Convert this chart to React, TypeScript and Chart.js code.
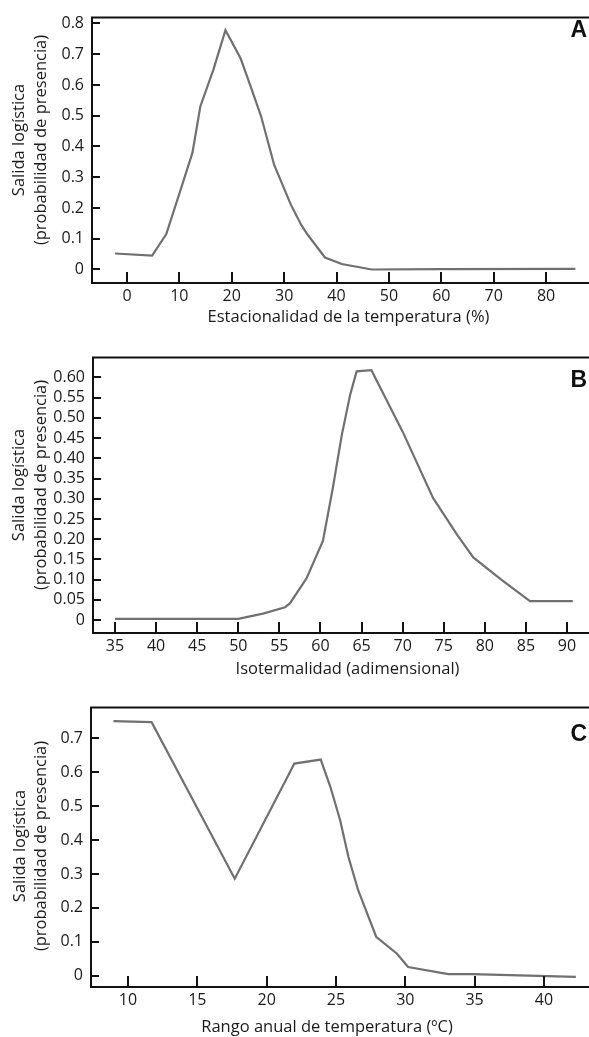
import React, { useEffect, useRef } from "react";
import { Chart, registerables } from "chart.js";

Chart.register(...registerables);

// ---- Data ----
const xA = [-2.3, 4.8, 7.5, 10.2, 12.5, 14, 16.5, 18.8, 21.7, 23.5, 25.6, 28.1, 31.3, 33.3, 34.5, 37.8, 41, 46.7, 60, 85.6];
const yA = [0.052, 0.045, 0.115, 0.257, 0.38, 0.53, 0.65, 0.778, 0.686, 0.6, 0.498, 0.34, 0.21, 0.144, 0.113, 0.039, 0.018, 0.0, 0.001, 0.002];
const xTicksA = [0, 10, 20, 30, 40, 50, 60, 70, 80];
const yTicksA = [0, 0.1, 0.2, 0.3, 0.4, 0.5, 0.6, 0.7, 0.8];
const yLabelsA = ["0", "0.1", "0.2", "0.3", "0.4", "0.5", "0.6", "0.7", "0.8"];

const xB = [35, 50, 53, 55.7, 56.3, 58.3, 60.3, 61.5, 62.6, 63.6, 64.4, 66.2, 70, 73.7, 76.6, 78.6, 82, 85.5, 90.7];
const yB = [0.003, 0.003, 0.016, 0.032, 0.042, 0.103, 0.196, 0.326, 0.458, 0.556, 0.615, 0.618, 0.466, 0.302, 0.212, 0.155, 0.1, 0.047, 0.047];
const xTicksB = [35, 40, 45, 50, 55, 60, 65, 70, 75, 80, 85, 90];
const yTicksB = [0, 0.05, 0.1, 0.15, 0.2, 0.25, 0.3, 0.35, 0.4, 0.45, 0.5, 0.55, 0.6];
const yLabelsB = ["0", "0.05", "0.10", "0.15", "0.20", "0.25", "0.30", "0.35", "0.40", "0.45", "0.50", "0.55", "0.60"];

const xC = [8.95, 11.7, 17.7, 22.0, 23.9, 24.6, 25.3, 25.9, 26.6, 27.9, 29.4, 30.2, 33.1, 34.8, 42.3];
const yC = [0.75, 0.747, 0.286, 0.625, 0.637, 0.556, 0.458, 0.35, 0.252, 0.115, 0.065, 0.026, 0.005, 0.005, -0.003];
const xTicksC = [10, 15, 20, 25, 30, 35, 40];
const yTicksC = [0, 0.1, 0.2, 0.3, 0.4, 0.5, 0.6, 0.7];
const yLabelsC = ["0", "0.1", "0.2", "0.3", "0.4", "0.5", "0.6", "0.7"];

const yTitle = ["Salida logística", "(probabilidad de presencia)"];

const FONT = "'Open Sans', 'Noto Sans', sans-serif";
const LINE = "#707070";
const INK = "#111111";
const TEXT = "#1a1a1a";

type Panel = {
  letter: string;
  xs: number[];
  ys: number[];
  xTicks: number[];
  yTicks: number[];
  yLabels: string[];
  xTitle: string;
  xMin: number;
  xMax: number;
  yMin: number;
  yMax: number;
  height: number;
  padTop: number;
  xAxisH: number;
  yAxisW: number;
  xTitleX: number;
  xTitleY: number;
  yTitleY: number;
  yTitleX: number;
  letterY: number;
};

const panels: Panel[] = [
  {
    letter: "A", xs: xA, ys: yA, xTicks: xTicksA, yTicks: yTicksA, yLabels: yLabelsA,
    xTitle: "Estacionalidad de la temperatura (%)",
    xMin: -6.68, xMax: 88.2, yMin: -0.0439, yMax: 0.819,
    height: 340, padTop: 8, xAxisH: 57, yAxisW: 92,
    xTitleX: 348.5, xTitleY: 317, yTitleY: 140, yTitleX: 19.5, letterY: 37,
  },
  {
    letter: "B", xs: xB, ys: yB, xTicks: xTicksB, yTicks: yTicksB, yLabels: yLabelsB,
    xTitle: "Isotermalidad (adimensional)",
    xMin: 32.32, xMax: 92.68, yMin: -0.0318, yMax: 0.649,
    height: 350, padTop: 15, xAxisH: 57, yAxisW: 93,
    xTitleX: 347.5, xTitleY: 329, yTitleY: 145, yTitleX: 19.5, letterY: 47,
  },
  {
    letter: "C", xs: xC, ys: yC, xTicks: xTicksC, yTicks: yTicksC, yLabels: yLabelsC,
    xTitle: "Rango anual de temperatura (ºC)",
    xMin: 7.33, xMax: 43.25, yMin: -0.033, yMax: 0.79,
    height: 347, padTop: 17, xAxisH: 50, yAxisW: 91,
    xTitleX: 327, xTitleY: 337, yTitleY: 156, yTitleX: 20, letterY: 51,
  },
];

function PanelChart({ p }: { p: Panel }) {
  const ref = useRef<HTMLCanvasElement | null>(null);
  useEffect(() => {
    if (!ref.current) return;
    const framePlugin = {
      id: "frame",
      afterDraw(chart: any) {
        const ctx = chart.ctx;
        const a = chart.chartArea;
        const xs = chart.scales.x;
        const ys = chart.scales.y;
        ctx.save();
        ctx.strokeStyle = INK;
        ctx.lineWidth = 2;
        ctx.beginPath();
        ctx.moveTo(chart.width, a.top);
        ctx.lineTo(a.left, a.top);
        ctx.lineTo(a.left, a.bottom);
        ctx.lineTo(chart.width, a.bottom);
        ctx.stroke();
        ctx.beginPath();
        for (const t of xs.ticks) {
          const px = Math.round(xs.getPixelForValue(t.value));
          ctx.moveTo(px, a.bottom);
          ctx.lineTo(px, a.bottom - 11);
        }
        for (const t of ys.ticks) {
          const py = Math.round(ys.getPixelForValue(t.value));
          ctx.moveTo(a.left, py);
          ctx.lineTo(a.left + 8, py);
        }
        ctx.stroke();

        // axis titles
        ctx.fillStyle = TEXT;
        ctx.font = `16.5px ${FONT}`;
        ctx.textAlign = "center";
        ctx.textBaseline = "middle";
        ctx.fillText(p.xTitle, p.xTitleX, p.xTitleY);
        ctx.save();
        ctx.translate(p.yTitleX, p.yTitleY);
        ctx.rotate(-Math.PI / 2);
        ctx.fillText(yTitle[0], 0, 0);
        ctx.fillText(yTitle[1], 0, 21.5);
        ctx.restore();

        // panel letter
        ctx.fillStyle = INK;
        ctx.font = "bold 23px 'Liberation Sans Narrow', 'Liberation Sans', sans-serif";
        ctx.textAlign = "right";
        ctx.textBaseline = "alphabetic";
        ctx.fillText(p.letter, chart.width - 2, p.letterY);
        ctx.restore();
      },
    };

    const chart = new Chart(ref.current, {
      type: "line",
      data: {
        datasets: [
          {
            data: p.xs.map((x, i) => ({ x, y: p.ys[i] })),
            borderColor: LINE,
            borderWidth: 2.2,
            pointRadius: 0,
            tension: 0,
            fill: false,
          },
        ],
      },
      options: {
        animation: false,
        responsive: false,
        devicePixelRatio: 1,
        layout: { padding: { top: p.padTop, left: 0, right: 0, bottom: 0 } },
        plugins: { legend: { display: false }, tooltip: { enabled: false } },
        scales: {
          x: {
            type: "linear",
            min: p.xMin,
            max: p.xMax,
            afterBuildTicks: (s: any) => {
              s.ticks = p.xTicks.map((v) => ({ value: v }));
            },
            afterFit: (s: any) => {
              s.height = p.xAxisH;
            },
            grid: { display: false, drawTicks: false },
            border: { display: false },
            ticks: {
              padding: 4,
              color: TEXT,
              font: { family: FONT, size: 16 },
              maxRotation: 0,
              autoSkip: false,
              callback: (v: any) => String(v),
            },
            title: { display: false },
          },
          y: {
            type: "linear",
            min: p.yMin,
            max: p.yMax,
            afterBuildTicks: (s: any) => {
              s.ticks = p.yTicks.map((v) => ({ value: v }));
            },
            afterFit: (s: any) => {
              s.width = p.yAxisW;
            },
            grid: { display: false, drawTicks: false },
            border: { display: false },
            ticks: {
              padding: 8,
              color: TEXT,
              font: { family: FONT, size: 16 },
              autoSkip: false,
              callback: (v: any) => {
                const i = p.yTicks.findIndex((t) => Math.abs(t - v) < 1e-9);
                return i >= 0 ? p.yLabels[i] : "";
              },
            },
            title: { display: false },
          },
        },
      },
      plugins: [framePlugin],
    });
    return () => chart.destroy();
  }, [p]);
  return <canvas ref={ref} width={589} height={p.height} style={{ display: "block" }} />;
}

export default function App() {
  return (
    <div style={{ position: "absolute", left: 0, top: 0, width: 589, height: 1037, background: "#fff" }}>
      {panels.map((p) => (
        <PanelChart key={p.letter} p={p} />
      ))}
    </div>
  );
}
